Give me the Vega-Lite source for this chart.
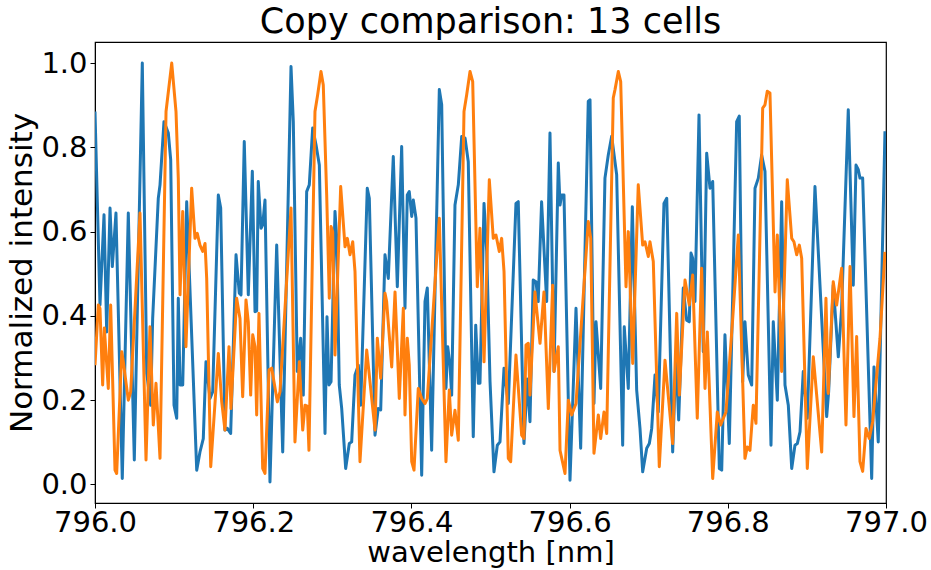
{
"$schema": "https://vega.github.io/schema/vega-lite/v6.json",
"width": 791, "height": 461,
"autosize": {"type": "none"},
"padding": {"left": 95, "top": 42, "right": 45, "bottom": 67},
"background": "white",
"title": {"text": "Copy comparison: 13 cells", "fontSize": 35, "fontWeight": "normal", "font": "DejaVu Sans", "color": "black", "anchor": "middle", "offset": 2},
"config": {
  "font": "DejaVu Sans",
  "view": {"stroke": "black", "strokeWidth": 1.2},
  "axis": {"labelFontSize": 29, "titleFontSize": 29, "titleFontWeight": "normal", "labelColor": "black", "titleColor": "black", "tickColor": "black", "domainColor": "black", "tickSize": 5, "grid": false, "labelFont": "DejaVu Sans", "titleFont": "DejaVu Sans"}
},
"data": {"values": [
{"s":"A","w":796.0000,"v":0.885},{"s":"A","w":796.0063,"v":0.426},{"s":"A","w":796.0114,"v":0.640},{"s":"A","w":796.0148,"v":0.362},{"s":"A","w":796.0190,"v":0.656},{"s":"A","w":796.0219,"v":0.517},{"s":"A","w":796.0265,"v":0.644},{"s":"A","w":796.0345,"v":0.014},{"s":"A","w":796.0421,"v":0.644},{"s":"A","w":796.0497,"v":0.058},{"s":"A","w":796.0598,"v":1.000},{"s":"A","w":796.0654,"v":0.264},{"s":"A","w":796.0704,"v":0.188},{"s":"A","w":796.0729,"v":0.394},{"s":"A","w":796.0800,"v":0.679},{"s":"A","w":796.0822,"v":0.711},{"s":"A","w":796.0872,"v":0.861},{"s":"A","w":796.0927,"v":0.834},{"s":"A","w":796.0957,"v":0.770},{"s":"A","w":796.0999,"v":0.188},{"s":"A","w":796.1033,"v":0.157},{"s":"A","w":796.1053,"v":0.442},{"s":"A","w":796.1075,"v":0.236},{"s":"A","w":796.1109,"v":0.236},{"s":"A","w":796.1159,"v":0.671},{"s":"A","w":796.1286,"v":0.034},{"s":"A","w":796.1327,"v":0.077},{"s":"A","w":796.1369,"v":0.109},{"s":"A","w":796.1403,"v":0.291},{"s":"A","w":796.1454,"v":0.204},{"s":"A","w":796.1488,"v":0.220},{"s":"A","w":796.1559,"v":0.687},{"s":"A","w":796.1589,"v":0.656},{"s":"A","w":796.1643,"v":0.129},{"s":"A","w":796.1673,"v":0.133},{"s":"A","w":796.1715,"v":0.121},{"s":"A","w":796.1783,"v":0.545},{"s":"A","w":796.1824,"v":0.454},{"s":"A","w":796.1846,"v":0.450},{"s":"A","w":796.1887,"v":0.814},{"s":"A","w":796.1938,"v":0.450},{"s":"A","w":796.1989,"v":0.743},{"s":"A","w":796.2023,"v":0.410},{"s":"A","w":796.2044,"v":0.412},{"s":"A","w":796.2064,"v":0.719},{"s":"A","w":796.2099,"v":0.608},{"s":"A","w":796.2120,"v":0.616},{"s":"A","w":796.2149,"v":0.675},{"s":"A","w":796.2212,"v":0.006},{"s":"A","w":796.2297,"v":0.568},{"s":"A","w":796.2373,"v":0.077},{"s":"A","w":796.2478,"v":0.992},{"s":"A","w":796.2507,"v":0.861},{"s":"A","w":796.2557,"v":0.268},{"s":"A","w":796.2600,"v":0.347},{"s":"A","w":796.2633,"v":0.212},{"s":"A","w":796.2676,"v":0.695},{"s":"A","w":796.2709,"v":0.711},{"s":"A","w":796.2752,"v":0.846},{"s":"A","w":796.2794,"v":0.806},{"s":"A","w":796.2836,"v":0.758},{"s":"A","w":796.2908,"v":0.121},{"s":"A","w":796.2933,"v":0.398},{"s":"A","w":796.2958,"v":0.236},{"s":"A","w":796.2984,"v":0.244},{"s":"A","w":796.3034,"v":0.648},{"s":"A","w":796.3056,"v":0.584},{"s":"A","w":796.3088,"v":0.236},{"s":"A","w":796.3119,"v":0.180},{"s":"A","w":796.3169,"v":0.038},{"s":"A","w":796.3215,"v":0.097},{"s":"A","w":796.3245,"v":0.101},{"s":"A","w":796.3287,"v":0.260},{"s":"A","w":796.3329,"v":0.283},{"s":"A","w":796.3359,"v":0.188},{"s":"A","w":796.3442,"v":0.703},{"s":"A","w":796.3468,"v":0.679},{"s":"A","w":796.3540,"v":0.117},{"s":"A","w":796.3581,"v":0.180},{"s":"A","w":796.3612,"v":0.177},{"s":"A","w":796.3666,"v":0.545},{"s":"A","w":796.3708,"v":0.489},{"s":"A","w":796.3771,"v":0.778},{"s":"A","w":796.3822,"v":0.469},{"s":"A","w":796.3877,"v":0.802},{"s":"A","w":796.3919,"v":0.418},{"s":"A","w":796.3948,"v":0.687},{"s":"A","w":796.3973,"v":0.695},{"s":"A","w":796.4004,"v":0.636},{"s":"A","w":796.4024,"v":0.675},{"s":"A","w":796.4058,"v":0.632},{"s":"A","w":796.4130,"v":0.022},{"s":"A","w":796.4172,"v":0.434},{"s":"A","w":796.4201,"v":0.466},{"s":"A","w":796.4256,"v":0.081},{"s":"A","w":796.4353,"v":0.937},{"s":"A","w":796.4383,"v":0.901},{"s":"A","w":796.4437,"v":0.228},{"s":"A","w":796.4459,"v":0.327},{"s":"A","w":796.4488,"v":0.283},{"s":"A","w":796.4509,"v":0.212},{"s":"A","w":796.4551,"v":0.663},{"s":"A","w":796.4593,"v":0.711},{"s":"A","w":796.4636,"v":0.826},{"s":"A","w":796.4678,"v":0.822},{"s":"A","w":796.4719,"v":0.766},{"s":"A","w":796.4782,"v":0.113},{"s":"A","w":796.4813,"v":0.378},{"s":"A","w":796.4846,"v":0.240},{"s":"A","w":796.4867,"v":0.240},{"s":"A","w":796.4918,"v":0.667},{"s":"A","w":796.4952,"v":0.553},{"s":"A","w":796.4994,"v":0.244},{"s":"A","w":796.5044,"v":0.030},{"s":"A","w":796.5086,"v":0.093},{"s":"A","w":796.5120,"v":0.101},{"s":"A","w":796.5171,"v":0.276},{"s":"A","w":796.5225,"v":0.192},{"s":"A","w":796.5322,"v":0.667},{"s":"A","w":796.5351,"v":0.671},{"s":"A","w":796.5423,"v":0.097},{"s":"A","w":796.5465,"v":0.250},{"s":"A","w":796.5499,"v":0.149},{"s":"A","w":796.5540,"v":0.485},{"s":"A","w":796.5575,"v":0.481},{"s":"A","w":796.5603,"v":0.434},{"s":"A","w":796.5646,"v":0.671},{"s":"A","w":796.5710,"v":0.434},{"s":"A","w":796.5752,"v":0.834},{"s":"A","w":796.5803,"v":0.268},{"s":"A","w":796.5857,"v":0.763},{"s":"A","w":796.5879,"v":0.663},{"s":"A","w":796.5900,"v":0.687},{"s":"A","w":796.5929,"v":0.687},{"s":"A","w":796.6005,"v":0.010},{"s":"A","w":796.6081,"v":0.418},{"s":"A","w":796.6140,"v":0.086},{"s":"A","w":796.6236,"v":0.909},{"s":"A","w":796.6258,"v":0.913},{"s":"A","w":796.6308,"v":0.192},{"s":"A","w":796.6334,"v":0.386},{"s":"A","w":796.6393,"v":0.228},{"s":"A","w":796.6447,"v":0.727},{"s":"A","w":796.6489,"v":0.782},{"s":"A","w":796.6532,"v":0.826},{"s":"A","w":796.6595,"v":0.735},{"s":"A","w":796.6671,"v":0.093},{"s":"A","w":796.6691,"v":0.374},{"s":"A","w":796.6742,"v":0.228},{"s":"A","w":796.6793,"v":0.659},{"s":"A","w":796.6848,"v":0.224},{"s":"A","w":796.6890,"v":0.133},{"s":"A","w":796.6924,"v":0.030},{"s":"A","w":796.6975,"v":0.086},{"s":"A","w":796.7008,"v":0.097},{"s":"A","w":796.7038,"v":0.133},{"s":"A","w":796.7080,"v":0.260},{"s":"A","w":796.7121,"v":0.172},{"s":"A","w":796.7193,"v":0.667},{"s":"A","w":796.7228,"v":0.679},{"s":"A","w":796.7303,"v":0.077},{"s":"A","w":796.7345,"v":0.307},{"s":"A","w":796.7379,"v":0.153},{"s":"A","w":796.7437,"v":0.466},{"s":"A","w":796.7480,"v":0.390},{"s":"A","w":796.7513,"v":0.386},{"s":"A","w":796.7535,"v":0.549},{"s":"A","w":796.7556,"v":0.537},{"s":"A","w":796.7585,"v":0.434},{"s":"A","w":796.7636,"v":0.877},{"s":"A","w":796.7690,"v":0.315},{"s":"A","w":796.7733,"v":0.786},{"s":"A","w":796.7775,"v":0.703},{"s":"A","w":796.7809,"v":0.719},{"s":"A","w":796.7893,"v":0.038},{"s":"A","w":796.7923,"v":0.034},{"s":"A","w":796.7964,"v":0.355},{"s":"A","w":796.8019,"v":0.097},{"s":"A","w":796.8112,"v":0.861},{"s":"A","w":796.8145,"v":0.874},{"s":"A","w":796.8188,"v":0.244},{"s":"A","w":796.8217,"v":0.386},{"s":"A","w":796.8259,"v":0.260},{"s":"A","w":796.8302,"v":0.236},{"s":"A","w":796.8344,"v":0.703},{"s":"A","w":796.8386,"v":0.727},{"s":"A","w":796.8428,"v":0.782},{"s":"A","w":796.8470,"v":0.743},{"s":"A","w":796.8546,"v":0.093},{"s":"A","w":796.8575,"v":0.386},{"s":"A","w":796.8626,"v":0.200},{"s":"A","w":796.8681,"v":0.671},{"s":"A","w":796.8723,"v":0.236},{"s":"A","w":796.8765,"v":0.188},{"s":"A","w":796.8808,"v":0.038},{"s":"A","w":796.8849,"v":0.093},{"s":"A","w":796.8879,"v":0.097},{"s":"A","w":796.8913,"v":0.125},{"s":"A","w":796.8954,"v":0.268},{"s":"A","w":796.9005,"v":0.157},{"s":"A","w":796.9102,"v":0.707},{"s":"A","w":796.9250,"v":0.161},{"s":"A","w":796.9275,"v":0.220},{"s":"A","w":796.9333,"v":0.473},{"s":"A","w":796.9397,"v":0.303},{"s":"A","w":796.9439,"v":0.418},{"s":"A","w":796.9523,"v":0.889},{"s":"A","w":796.9586,"v":0.473},{"s":"A","w":796.9621,"v":0.758},{"s":"A","w":796.9650,"v":0.747},{"s":"A","w":796.9671,"v":0.727},{"s":"A","w":796.9705,"v":0.727},{"s":"A","w":796.9819,"v":0.014},{"s":"A","w":796.9848,"v":0.279},{"s":"A","w":796.9902,"v":0.101},{"s":"A","w":796.9987,"v":0.838},
{"s":"B","w":796.0000,"v":0.283},{"s":"B","w":796.0042,"v":0.426},{"s":"B","w":796.0063,"v":0.418},{"s":"B","w":796.0097,"v":0.236},{"s":"B","w":796.0118,"v":0.371},{"s":"B","w":796.0168,"v":0.228},{"s":"B","w":796.0198,"v":0.426},{"s":"B","w":796.0253,"v":0.034},{"s":"B","w":796.0274,"v":0.026},{"s":"B","w":796.0338,"v":0.315},{"s":"B","w":796.0358,"v":0.291},{"s":"B","w":796.0421,"v":0.200},{"s":"B","w":796.0451,"v":0.220},{"s":"B","w":796.0569,"v":0.644},{"s":"B","w":796.0645,"v":0.058},{"s":"B","w":796.0695,"v":0.374},{"s":"B","w":796.0737,"v":0.141},{"s":"B","w":796.0771,"v":0.240},{"s":"B","w":796.0822,"v":0.062},{"s":"B","w":796.0898,"v":0.885},{"s":"B","w":796.0970,"v":1.000},{"s":"B","w":796.1024,"v":0.885},{"s":"B","w":796.1053,"v":0.727},{"s":"B","w":796.1075,"v":0.450},{"s":"B","w":796.1109,"v":0.648},{"s":"B","w":796.1150,"v":0.327},{"s":"B","w":796.1222,"v":0.703},{"s":"B","w":796.1264,"v":0.584},{"s":"B","w":796.1293,"v":0.596},{"s":"B","w":796.1327,"v":0.568},{"s":"B","w":796.1362,"v":0.553},{"s":"B","w":796.1391,"v":0.572},{"s":"B","w":796.1412,"v":0.489},{"s":"B","w":796.1463,"v":0.042},{"s":"B","w":796.1559,"v":0.311},{"s":"B","w":796.1602,"v":0.196},{"s":"B","w":796.1643,"v":0.129},{"s":"B","w":796.1694,"v":0.327},{"s":"B","w":796.1719,"v":0.180},{"s":"B","w":796.1791,"v":0.442},{"s":"B","w":796.1833,"v":0.394},{"s":"B","w":796.1867,"v":0.208},{"s":"B","w":796.1909,"v":0.438},{"s":"B","w":796.1938,"v":0.386},{"s":"B","w":796.1968,"v":0.212},{"s":"B","w":796.1994,"v":0.355},{"s":"B","w":796.2023,"v":0.327},{"s":"B","w":796.2044,"v":0.165},{"s":"B","w":796.2073,"v":0.406},{"s":"B","w":796.2120,"v":0.038},{"s":"B","w":796.2149,"v":0.026},{"s":"B","w":796.2200,"v":0.272},{"s":"B","w":796.2234,"v":0.276},{"s":"B","w":796.2305,"v":0.196},{"s":"B","w":796.2339,"v":0.220},{"s":"B","w":796.2478,"v":0.656},{"s":"B","w":796.2528,"v":0.101},{"s":"B","w":796.2583,"v":0.291},{"s":"B","w":796.2626,"v":0.129},{"s":"B","w":796.2655,"v":0.188},{"s":"B","w":796.2684,"v":0.186},{"s":"B","w":796.2705,"v":0.081},{"s":"B","w":796.2781,"v":0.885},{"s":"B","w":796.2815,"v":0.925},{"s":"B","w":796.2857,"v":0.980},{"s":"B","w":796.2886,"v":0.948},{"s":"B","w":796.2929,"v":0.687},{"s":"B","w":796.2962,"v":0.442},{"s":"B","w":796.2984,"v":0.612},{"s":"B","w":796.3005,"v":0.600},{"s":"B","w":796.3034,"v":0.307},{"s":"B","w":796.3106,"v":0.707},{"s":"B","w":796.3161,"v":0.564},{"s":"B","w":796.3190,"v":0.584},{"s":"B","w":796.3224,"v":0.545},{"s":"B","w":796.3258,"v":0.576},{"s":"B","w":796.3287,"v":0.505},{"s":"B","w":796.3350,"v":0.054},{"s":"B","w":796.3435,"v":0.319},{"s":"B","w":796.3540,"v":0.129},{"s":"B","w":796.3569,"v":0.347},{"s":"B","w":796.3612,"v":0.252},{"s":"B","w":796.3666,"v":0.454},{"s":"B","w":796.3687,"v":0.434},{"s":"B","w":796.3751,"v":0.279},{"s":"B","w":796.3793,"v":0.457},{"s":"B","w":796.3847,"v":0.204},{"s":"B","w":796.3898,"v":0.418},{"s":"B","w":796.3919,"v":0.165},{"s":"B","w":796.3948,"v":0.347},{"s":"B","w":796.3973,"v":0.283},{"s":"B","w":796.4004,"v":0.054},{"s":"B","w":796.4033,"v":0.034},{"s":"B","w":796.4087,"v":0.228},{"s":"B","w":796.4130,"v":0.204},{"s":"B","w":796.4172,"v":0.192},{"s":"B","w":796.4201,"v":0.204},{"s":"B","w":796.4353,"v":0.632},{"s":"B","w":796.4437,"v":0.054},{"s":"B","w":796.4479,"v":0.224},{"s":"B","w":796.4509,"v":0.117},{"s":"B","w":796.4551,"v":0.176},{"s":"B","w":796.4593,"v":0.105},{"s":"B","w":796.4665,"v":0.885},{"s":"B","w":796.4699,"v":0.925},{"s":"B","w":796.4741,"v":0.980},{"s":"B","w":796.4775,"v":0.956},{"s":"B","w":796.4833,"v":0.469},{"s":"B","w":796.4867,"v":0.608},{"s":"B","w":796.4918,"v":0.291},{"s":"B","w":796.4985,"v":0.723},{"s":"B","w":796.5035,"v":0.584},{"s":"B","w":796.5069,"v":0.592},{"s":"B","w":796.5111,"v":0.553},{"s":"B","w":796.5141,"v":0.584},{"s":"B","w":796.5171,"v":0.505},{"s":"B","w":796.5225,"v":0.062},{"s":"B","w":796.5255,"v":0.054},{"s":"B","w":796.5322,"v":0.307},{"s":"B","w":796.5394,"v":0.117},{"s":"B","w":796.5423,"v":0.109},{"s":"B","w":796.5449,"v":0.331},{"s":"B","w":796.5478,"v":0.335},{"s":"B","w":796.5499,"v":0.212},{"s":"B","w":796.5562,"v":0.457},{"s":"B","w":796.5626,"v":0.335},{"s":"B","w":796.5676,"v":0.457},{"s":"B","w":796.5731,"v":0.180},{"s":"B","w":796.5786,"v":0.473},{"s":"B","w":796.5803,"v":0.268},{"s":"B","w":796.5857,"v":0.327},{"s":"B","w":796.5879,"v":0.081},{"s":"B","w":796.5942,"v":0.026},{"s":"B","w":796.5984,"v":0.200},{"s":"B","w":796.6026,"v":0.165},{"s":"B","w":796.6081,"v":0.192},{"s":"B","w":796.6236,"v":0.624},{"s":"B","w":796.6267,"v":0.584},{"s":"B","w":796.6308,"v":0.074},{"s":"B","w":796.6363,"v":0.165},{"s":"B","w":796.6393,"v":0.109},{"s":"B","w":796.6435,"v":0.172},{"s":"B","w":796.6469,"v":0.121},{"s":"B","w":796.6552,"v":0.917},{"s":"B","w":796.6574,"v":0.937},{"s":"B","w":796.6616,"v":0.980},{"s":"B","w":796.6646,"v":0.956},{"s":"B","w":796.6713,"v":0.469},{"s":"B","w":796.6742,"v":0.600},{"s":"B","w":796.6798,"v":0.287},{"s":"B","w":796.6868,"v":0.711},{"s":"B","w":796.6924,"v":0.568},{"s":"B","w":796.6953,"v":0.576},{"s":"B","w":796.6995,"v":0.541},{"s":"B","w":796.7016,"v":0.576},{"s":"B","w":796.7058,"v":0.529},{"s":"B","w":796.7134,"v":0.042},{"s":"B","w":796.7206,"v":0.295},{"s":"B","w":796.7303,"v":0.097},{"s":"B","w":796.7354,"v":0.406},{"s":"B","w":796.7387,"v":0.212},{"s":"B","w":796.7459,"v":0.485},{"s":"B","w":796.7513,"v":0.426},{"s":"B","w":796.7556,"v":0.497},{"s":"B","w":796.7614,"v":0.157},{"s":"B","w":796.7669,"v":0.513},{"s":"B","w":796.7712,"v":0.228},{"s":"B","w":796.7741,"v":0.362},{"s":"B","w":796.7809,"v":0.014},{"s":"B","w":796.7867,"v":0.172},{"s":"B","w":796.7910,"v":0.141},{"s":"B","w":796.7943,"v":0.157},{"s":"B","w":796.7977,"v":0.172},{"s":"B","w":796.8062,"v":0.394},{"s":"B","w":796.8133,"v":0.592},{"s":"B","w":796.8217,"v":0.062},{"s":"B","w":796.8246,"v":0.089},{"s":"B","w":796.8280,"v":0.081},{"s":"B","w":796.8322,"v":0.188},{"s":"B","w":796.8356,"v":0.145},{"s":"B","w":796.8441,"v":0.893},{"s":"B","w":796.8470,"v":0.901},{"s":"B","w":796.8499,"v":0.933},{"s":"B","w":796.8533,"v":0.929},{"s":"B","w":796.8597,"v":0.457},{"s":"B","w":796.8626,"v":0.592},{"s":"B","w":796.8681,"v":0.268},{"s":"B","w":796.8752,"v":0.723},{"s":"B","w":796.8808,"v":0.584},{"s":"B","w":796.8836,"v":0.576},{"s":"B","w":796.8871,"v":0.545},{"s":"B","w":796.8904,"v":0.568},{"s":"B","w":796.8934,"v":0.537},{"s":"B","w":796.9005,"v":0.038},{"s":"B","w":796.9081,"v":0.303},{"s":"B","w":796.9187,"v":0.077},{"s":"B","w":796.9241,"v":0.442},{"s":"B","w":796.9270,"v":0.216},{"s":"B","w":796.9333,"v":0.481},{"s":"B","w":796.9376,"v":0.426},{"s":"B","w":796.9439,"v":0.513},{"s":"B","w":796.9494,"v":0.141},{"s":"B","w":796.9545,"v":0.517},{"s":"B","w":796.9595,"v":0.161},{"s":"B","w":796.9629,"v":0.351},{"s":"B","w":796.9671,"v":0.054},{"s":"B","w":796.9705,"v":0.031},{"s":"B","w":796.9747,"v":0.133},{"s":"B","w":796.9789,"v":0.109},{"s":"B","w":796.9831,"v":0.149},{"s":"B","w":796.9924,"v":0.347},{"s":"B","w":796.9987,"v":0.552}
]},
"mark": {"type": "line", "strokeWidth": 3, "clip": true, "strokeJoin": "round"},
"encoding": {
  "x": {"field": "w", "type": "quantitative", "scale": {"domain": [796, 797], "nice": false, "zero": false},
        "axis": {"title": "wavelength [nm]", "values": [796, 796.2, 796.4, 796.6, 796.8, 797], "format": ".1f", "labelPadding": 0, "titlePadding": 1, "labelFlush": false}},
  "y": {"field": "v", "type": "quantitative", "scale": {"domain": [-0.044, 1.05], "nice": false, "zero": false},
        "axis": {"title": "Normalized intensity", "titleFontSize": 31, "values": [0, 0.2, 0.4, 0.6, 0.8, 1.0], "format": ".1f", "labelPadding": 3, "titlePadding": 2}},
  "color": {"field": "s", "type": "nominal", "scale": {"domain": ["A", "B"], "range": ["#1f77b4", "#ff7f0e"]}, "legend": null}
}
}
